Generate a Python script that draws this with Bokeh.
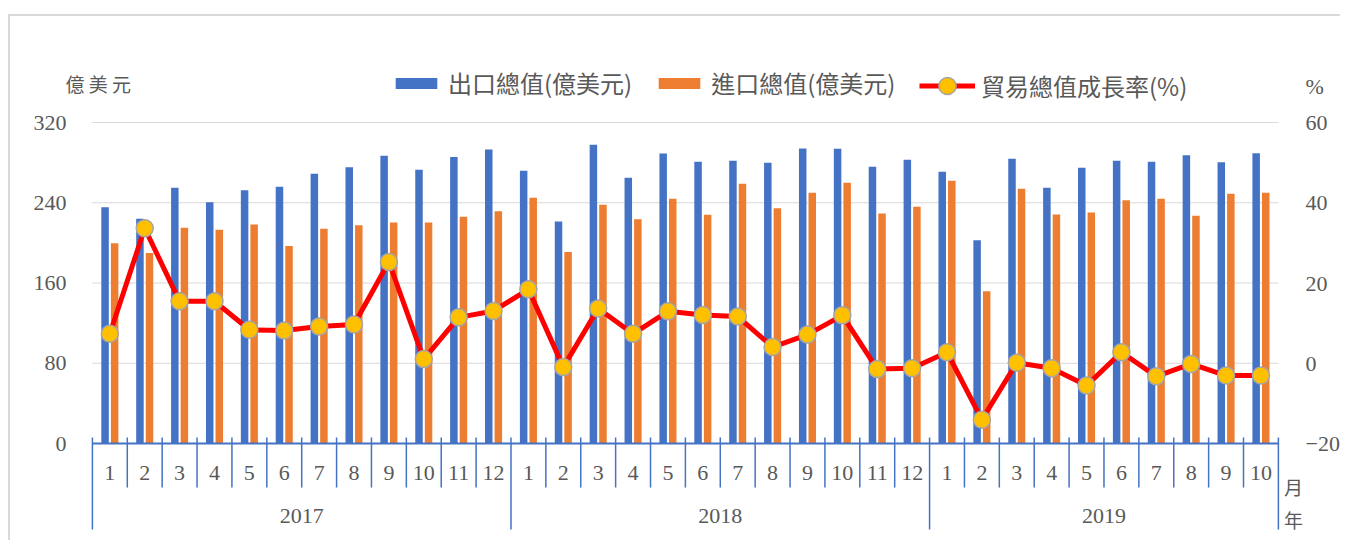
from bokeh.plotting import figure
from bokeh.models import (Range1d, LinearAxis, FixedTicker, Legend, LegendItem,
                          ColumnDataSource, Label)
from bokeh.transform import dodge
from bokeh.embed import file_html
from bokeh.resources import INLINE
from bokeh.core.properties import value

# ---------------- data ----------------
years = ["2017", "2018", "2019"]
months_per_year = [12, 12, 10]

exports_2017 = [235.6, 224.0, 255.0, 240.6, 252.5, 256.0, 269.0, 275.5, 286.8, 273.0, 285.5, 293.0]
exports_2018 = [272.0, 221.3, 297.8, 265.0, 289.0, 280.8, 281.8, 279.8, 294.0, 293.8, 276.0, 283.0]
exports_2019 = [270.9, 202.7, 284.0, 255.0, 274.9, 281.8, 280.8, 287.4, 280.5, 289.4]

imports_2017 = [199.7, 190.0, 215.0, 213.0, 218.3, 197.0, 214.0, 217.6, 220.3, 220.3, 226.0, 231.6]
imports_2018 = [245.0, 191.0, 238.0, 223.6, 244.0, 228.0, 259.0, 234.6, 250.0, 260.0, 229.3, 236.0]
imports_2019 = [262.0, 151.8, 254.0, 228.3, 230.3, 242.6, 244.0, 227.0, 249.0, 250.0]

growth_2017 = [7.4, 33.7, 15.5, 15.5, 8.4, 8.2, 9.2, 9.7, 25.3, 1.1, 11.5, 13.1]
growth_2018 = [18.5, -0.9, 13.7, 7.4, 13.0, 12.1, 11.7, 4.1, 7.2, 12.0, -1.4, -1.2]
growth_2019 = [2.8, -14.0, 0.2, -1.2, -5.5, 2.8, -3.2, -0.1, -3.0, -3.0]

left_ticks = [0, 80, 160, 240, 320]
right_ticks = [-20, 0, 20, 40, 60]
series_names = ["出口總值(億美元)", "進口總值(億美元)", "貿易總值成長率(%)"]
left_unit = "億 美 元"
right_unit = "%"
month_word = "月"
year_word = "年"

# ---------------- build ----------------
exports = exports_2017 + exports_2018 + exports_2019
imports = imports_2017 + imports_2018 + imports_2019
growth = growth_2017 + growth_2018 + growth_2019
n = len(exports)
month_labels = [str(m) for c in months_per_year for m in range(1, c + 1)]
centers = [i + 0.5 for i in range(n)]

src = ColumnDataSource(dict(x=centers, exp=exports, imp=imports, gr=growth, mon=month_labels))

TXT = "#595959"
BLUE = "#4472C4"
ORANGE = "#ED7D31"
GRID = "#D9D9D9"
SERIF = "'Liberation Serif', 'Noto Sans CJK TC'"
CJK = "Noto Sans CJK TC"

p = figure(width=1332, height=526,
           x_range=Range1d(-1.488, n + 0.72), y_range=Range1d(-96.7, 421.7),
           x_axis_type=None, y_axis_type=None,
           output_backend="svg", toolbar_location=None,
           min_border_left=30, min_border_right=37,
           min_border_top=4, min_border_bottom=2)
p.outline_line_color = None
p.background_fill_color = "white"
p.border_fill_color = "white"
p.extra_y_ranges = {"pct": Range1d(-44.11, 85.48)}
p.styles = {"border-top": "2px solid #D9D9D9", "border-left": "2px solid #D9D9D9",
            "margin-top": "14px", "margin-left": "8px"}

right_unit_at = 69

ya = LinearAxis(ticker=FixedTicker(ticks=left_ticks), axis_line_color=None,
                major_tick_line_color=None, minor_tick_line_color=None,
                major_label_standoff=-32, major_label_text_font=SERIF,
                major_label_text_font_size="22px", major_label_text_color=TXT)
p.add_layout(ya, "left")
yb = LinearAxis(y_range_name="pct",
                ticker=FixedTicker(ticks=right_ticks + [right_unit_at]),
                axis_line_color=None,
                major_tick_line_color=None, minor_tick_line_color=None,
                major_label_standoff=-4, major_label_text_font=SERIF,
                major_label_text_font_size="22px", major_label_text_color=TXT,
                major_label_overrides={right_unit_at: right_unit})
p.add_layout(yb, "right")

# horizontal gridlines across the category span
grid_ys = left_ticks[1:]
p.segment(x0=[0] * len(grid_ys), y0=grid_ys, x1=[n] * len(grid_ys), y1=grid_ys,
          line_color=GRID, line_width=1.2)

r_exp = p.vbar(x=dodge("x", -0.137, range=p.x_range), top="exp", bottom=0, width=0.215,
               source=src, fill_color=BLUE, line_color=None)
r_imp = p.vbar(x=dodge("x", 0.137, range=p.x_range), top="imp", bottom=0, width=0.215,
               source=src, fill_color=ORANGE, line_color=None)

# category axis line and separators
p.segment(x0=[0], y0=[0], x1=[n], y1=[0], line_color=BLUE, line_width=2)
bounds = list(range(n + 1))
year_bounds = [0]
for c in months_per_year:
    year_bounds.append(year_bounds[-1] + c)
month_bounds = [b for b in bounds if b not in year_bounds]
p.segment(x0=month_bounds, y0=6, x1=month_bounds, y1=-43.9, line_color=BLUE, line_width=1.5)
p.segment(x0=year_bounds, y0=6, x1=year_bounds, y1=-85.7, line_color=BLUE, line_width=1.5)

p.text(x="x", y=-29.9, text="mon", source=src, text_align="center", text_baseline="middle",
       text_font=value("Liberation Serif"), text_font_size="22px", text_color=TXT)
year_centers = [(year_bounds[i] + year_bounds[i + 1]) / 2 for i in range(len(years))]
p.text(x=year_centers, y=-71.8, text=years, text_align="center", text_baseline="middle",
       text_font=value("Liberation Serif"), text_font_size="22px", text_color=TXT)

r_line = p.line(x="x", y="gr", source=src, y_range_name="pct", line_color="#FF0000", line_width=5)
r_pts = p.scatter(x="x", y="gr", source=src, y_range_name="pct", size=17,
                  fill_color="#FFC000", line_color="#A5A5A5", line_width=1.5)

common = dict(orientation="horizontal", label_standoff=6,
              padding=0, margin=0, border_line_color=None, background_fill_alpha=0,
              label_text_font=CJK, label_text_font_size="24px",
              label_text_color=TXT)
legend_bars = Legend(items=[LegendItem(label=series_names[0], renderers=[r_exp]),
                            LegendItem(label=series_names[1], renderers=[r_imp])],
                     location=(350, 440), glyph_width=52, glyph_height=14, spacing=21, **common)
legend_line = Legend(items=[LegendItem(label=series_names[2], renderers=[r_line, r_pts])],
                     location=(879, 433), glyph_width=56, glyph_height=43, spacing=21, **common)
p.add_layout(legend_bars)
p.add_layout(legend_line)

p.add_layout(Label(x=-0.773, y=358.9, text=left_unit, text_align="left", text_baseline="middle",
                   text_font=CJK, text_font_size="19px", text_color=TXT))
p.add_layout(Label(x=34.43, y=-42.9, text=month_word, text_align="center", text_baseline="middle",
                   text_font=CJK, text_font_size="19px", text_color=TXT))
p.add_layout(Label(x=34.43, y=-75.8, text=year_word, text_align="center", text_baseline="middle",
                   text_font=CJK, text_font_size="19px", text_color=TXT))

open("out.html", "w").write(file_html(p, INLINE))
